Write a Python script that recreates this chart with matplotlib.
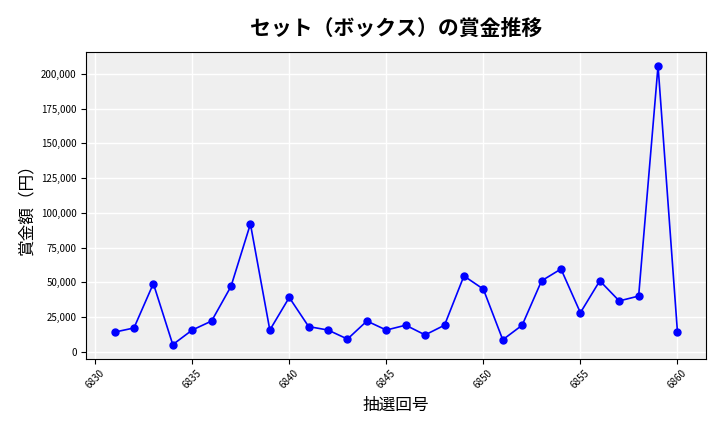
import matplotlib
matplotlib.use("Agg")
import matplotlib.pyplot as plt
from matplotlib.ticker import FuncFormatter

plt.rcParams['font.family'] = ['Noto Sans CJK JP', 'DejaVu Sans']

draws = list(range(6831, 6861))
prizes = [14000, 17000, 49000, 5000, 15500, 22000, 47000, 92000, 15500, 39000,
          18000, 15500, 9000, 22000, 15500, 19000, 12000, 19000, 54500, 45000,
          8500, 19000, 51000, 59500, 28000, 51000, 36500, 40000, 206000, 14000]

fig, ax = plt.subplots(figsize=(7.2, 4.32), dpi=100)
ax.set_facecolor('#efefef')
ax.grid(True, color='white', linewidth=1)
ax.set_axisbelow(True)
ax.plot(draws, prizes, color='blue', marker='o', markersize=5, linewidth=1.2)
ax.set_title('セット（ボックス）の賞金推移', fontsize=15, fontweight='bold', pad=12)
ax.set_xlabel('抽選回号', fontsize=12)
ax.set_ylabel('賞金額（円）', fontsize=12)
ax.yaxis.set_major_formatter(FuncFormatter(lambda v, p: f'{int(v):,}'))
ax.set_xticks(range(6830, 6861, 5))
ax.tick_params(axis='x', labelrotation=45, labelsize=7)
ax.tick_params(axis='y', labelsize=7)
fig.subplots_adjust(left=0.12, right=0.98, top=0.88, bottom=0.17)
fig.savefig('out.png')
